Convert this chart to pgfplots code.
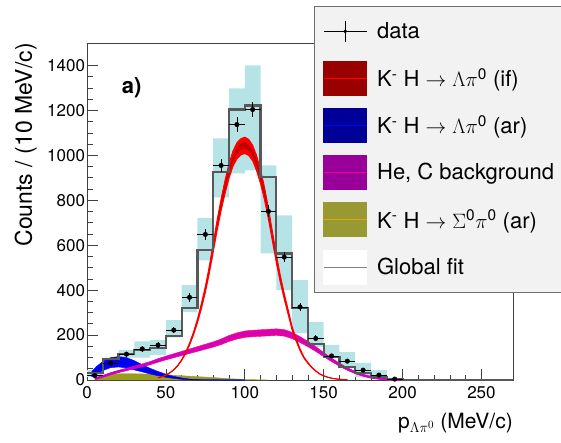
\documentclass[border=0pt]{standalone}
\usepackage{fontspec}
\setmainfont{TeX Gyre Heros}
\usepackage{pgfplots}
\pgfplotsset{compat=1.18}
\usepackage{pgfplotstable}
\usepgfplotslibrary{fillbetween}
\tikzset{fill between/on layer=main}

\definecolor{cyanbox}{RGB}{182,228,230}
\definecolor{histgray}{RGB}{88,88,88}
\definecolor{legfill}{RGB}{242,242,242}
\definecolor{legdraw}{RGB}{110,110,110}
\definecolor{reddark}{RGB}{195,0,0}
\definecolor{legred}{RGB}{153,0,0}
\definecolor{legblue}{RGB}{0,0,153}
\definecolor{legmag}{RGB}{153,0,153}
\definecolor{legolive}{RGB}{153,153,51}
\definecolor{oliveline}{RGB}{220,170,0}
\definecolor{magdark}{RGB}{205,0,205}
\definecolor{olivefill}{RGB}{155,155,30}

\pgfplotstableread{
x c lo hi ilo ihi
45 9.6 9.4 9.8 9.6 9.6
47.5 14.6 14.3 14.9 14.6 14.6
50 21.8 21.3 22.3 21.8 21.8
52.5 31.8 31.1 32.5 31.8 31.8
55 45.7 44.7 46.7 45.7 45.7
57.5 64.3 62.8 65.8 64.3 64.3
60 88.7 86.7 90.7 88.7 88.7
62.5 120 117 123 120 120
65 160 155 165 160 160
67.5 207 200 214 207 207
70 263 254 272 263 263
72.5 329 317 341 329 329
75 403 389 417 403 403
77.5 490 473 507 490 490
80 590 569 611 590 590
82.5 690 666 714 690 690
85 780 753 807 770 790
87.5 860 830 890 849 871
90 930 897 963 918 942
92.5 985 951 1019 972 998
95 1020 984 1056 1007 1033
97.5 1038 1002 1074 1025 1051
100 1045 1008 1081 1031 1059
102.5 1035 999 1071 1022 1048
105 1010 975 1045 997 1023
107.5 965 931 999 952 978
110 905 873 937 893 917
112.5 830 801 859 819 841
115 740 714 766 730 750
117.5 640 618 662 640 640
120 540 521 559 540 540
122.5 451 435 467 451 451
125 373 360 386 373 373
127.5 302 291 313 302 302
130 230 222 238 230 230
132.5 180 174 186 180 180
135 135 130 140 135 135
137.5 100 97 103 100 100
140 76 74 78 76 76
142.5 56 54.6 57.4 56 56
145 40 39 41 40 40
147.5 27 26.3 27.7 27 27
150 18.6 18.1 19.1 18.6 18.6
152.5 12.4 12.1 12.7 12.4 12.4
155 8 7.8 8.2 8 8
157.5 5.1 5 5.2 5.1 5.1
160 3.2 3.1 3.3 3.2 3.2
165 1.2 1.15 1.25 1.2 1.2
}\redtab

\pgfplotstableread{
x c lo hi
3 26 14 38
6 42 25 60
10 62 42 82
15 78 55 100
20 81 58 104
25 77 54 100
30 66 45 86
35 52 36 68
40 40 27 52
45 28 19 38
50 19 12 26
55 11.5 7 16
60 6 3 9
65 2.5 1 4
70 0.9 0.3 1.5
80 0.15 0 0.3
90 0.05 0 0.1
100 0 0 0
}\bluetab

\pgfplotstableread{
x c lo hi
5 6 0 11
10 11 0 19
15 15 0 25
20 17 0 28
30 17 0 28
40 16 0 26
50 14 0 23
60 12 0 19
70 9.5 0 15
80 7 0 11
90 3.8 0 6
100 1.3 0 2.5
110 0.3 0 0.7
115 0 0 0.1
}\olivetab

\pgfplotstableread{
x c lo hi
5 5 1.7 8.3
10 16 12.1 19.9
15 28 23.5 32.5
20 38 32.9 43.1
25 47 41.4 52.6
30 56 49.9 62.1
35 65 58.4 71.6
40 75 67.9 82.1
45 87 79.2 94.8
50 98 89.6 106.4
55 108 99.1 116.9
60 118 108.5 127.5
65 128 118 138
70 138 127.4 148.6
75 148 136.9 159.1
80 158 146.3 169.7
85 170 157.6 182.4
90 185 171.8 198.2
95 196 182.2 209.8
100 204 189.8 218.2
105 207 192.6 221.4
110 209 194.5 223.5
115 211 196.4 225.6
120 213 198.3 227.7
125 210 195.4 224.6
130 198 184.1 211.9
135 180 167.1 192.9
140 160 148.2 171.8
145 138 127.4 148.6
150 113 103.8 122.2
155 90 82 98
160 68 61.3 74.7
165 49 43.3 54.7
170 33 28.2 37.8
175 21 16.8 25.2
180 12 8.3 15.7
185 7 3.6 10.4
190 3.5 0.3 6.7
195 1 0 4
200 0 0 1
}\magtab

\pgfplotstableread{
x y e
5 20 4.5
15 75 8.7
25 115 10.7
35 138 11.7
45 155 12.4
55 222 14.9
65 368 19.2
75 648 25.5
85 955 30.9
95 1137 33.7
105 1204 34.7
115 751 27.4
125 547 23.4
135 325 18
145 185 13.6
155 107 10.3
165 84 9.2
175 44 6.6
185 22 4.7
195 4 2
}\datatab

\begin{document}
\begin{tikzpicture}
\begin{axis}[
  at={(87pt,62pt)}, anchor=south west,
  width=426pt, height=337pt, scale only axis,
  xmin=0, xmax=270, ymin=0, ymax=1500,
  xtick={0,50,100,150,200,250},
  minor x tick num=4,
  ytick={0,200,400,600,800,1000,1200,1400},
  minor y tick num=3,
  tick align=inside, tick pos=left,
  major tick length=11pt, minor tick length=5.5pt,
  axis line style={black!75, line width=0.7pt},
  tick style={black!75, line width=0.7pt},
  ticklabel style={font=\fontsize{17}{20}\selectfont},
  /pgf/number format/assume math mode=true,
  /pgf/number format/1000 sep={},
  xticklabel style={yshift=-3pt},
  yticklabel style={xshift=1.5pt},
  xlabel={p$_{\Lambda\pi^{0}}$ (MeV/c)},
  xlabel style={font=\fontsize{21}{24}\selectfont, at={(axis description cs:1,0)}, anchor=north east, inner sep=0pt, yshift=-33pt},
  ylabel={Counts / (10 MeV/c)},
  ylabel style={font=\fontsize{23}{26}\selectfont, at={(axis description cs:0,1)}, anchor=south east, inner sep=0pt, yshift=50pt},
  legend style={at={(axis description cs:0.533,1.11)}, anchor=north west,
    fill=legfill, draw=legdraw, line width=0.7pt,
    font=\fontsize{22}{26}\selectfont,
    inner xsep=9pt, inner ysep=8pt, row sep=12.5pt, column sep=10pt,
    nodes={inner sep=0pt}},
  legend cell align=left,
]
% systematic boxes
\addplot[fill=cyanbox, draw=none, unbounded coords=jump, forget plot] coordinates {
(0,13)(10,13)(10,44)(0,44)(nan,nan)
(10,58)(20,58)(20,100)(10,100)(nan,nan)
(20,100)(30,100)(30,133)(20,133)(nan,nan)
(30,100)(40,100)(40,172)(30,172)(nan,nan)
(40,111)(50,111)(50,178)(40,178)(nan,nan)
(50,190)(60,190)(60,267)(50,267)(nan,nan)
(60,302)(70,302)(70,422)(60,422)(nan,nan)
(70,533)(80,533)(80,720)(70,720)(nan,nan)
(80,813)(90,813)(90,1076)(80,1076)(nan,nan)
(90,920)(100,920)(100,1298)(90,1298)(nan,nan)
(100,933)(110,933)(110,1400)(100,1400)(nan,nan)
(110,564)(120,564)(120,955)(110,955)(nan,nan)
(120,400)(130,400)(130,733)(120,733)(nan,nan)
(130,209)(140,209)(140,444)(130,444)(nan,nan)
(140,147)(150,147)(150,258)(140,258)(nan,nan)
(150,98)(160,98)(160,156)(150,156)(nan,nan)
(160,53)(170,53)(170,124)(160,124)(nan,nan)
(170,13)(180,13)(180,76)(170,76)(nan,nan)
(180,9)(190,9)(190,44)(180,44)(nan,nan)
(190,0)(200,0)(200,10)(190,10)
};
% olive
\addplot[draw=olivefill, line width=0.4pt, name path=ohi, forget plot] table[x=x,y=hi]{\olivetab};
\addplot[draw=none, name path=olo, forget plot] table[x=x,y=lo]{\olivetab};
\addplot[olivefill, forget plot] fill between[of=ohi and olo];
% blue
\addplot[draw=blue, line width=0.4pt, name path=bhi, forget plot] table[x=x,y=hi]{\bluetab};
\addplot[draw=blue, line width=0.4pt, name path=blo, forget plot] table[x=x,y=lo]{\bluetab};
\addplot[blue, forget plot] fill between[of=bhi and blo];
\addplot[legblue, line width=0.6pt, forget plot] table[x=x,y=c]{\bluetab};
% magenta
\addplot[draw=magenta, line width=0.4pt, name path=mhi, forget plot] table[x=x,y=hi]{\magtab};
\addplot[draw=magenta, line width=0.4pt, name path=mlo, forget plot] table[x=x,y=lo]{\magtab};
\addplot[magenta, forget plot] fill between[of=mhi and mlo];
\addplot[magdark, line width=2.2pt, forget plot] table[x=x,y=c]{\magtab};
% red
\addplot[draw=red, line width=0.9pt, name path=rhi, forget plot] table[x=x,y=hi]{\redtab};
\addplot[draw=red, line width=0.9pt, name path=rlo, forget plot] table[x=x,y=lo]{\redtab};
\addplot[red, forget plot] fill between[of=rhi and rlo];
\addplot[red, line width=0.6pt, forget plot] table[x=x,y=c]{\redtab};
\addplot[draw=none, name path=rihi, forget plot] table[x=x,y=ihi]{\redtab};
\addplot[draw=none, name path=rilo, forget plot] table[x=x,y=ilo]{\redtab};
\addplot[reddark, forget plot] fill between[of=rihi and rilo];
% histogram (global fit)
\addplot[const plot, histgray, line width=2.2pt, forget plot] coordinates {
(0,30)(10,92)(20,115)(30,133)(40,142)(50,197)(60,319)(70,578)(80,925)(90,1204)
(100,1222)(110,902)(120,563)(130,321)(140,162)(150,102)(160,58)(170,30)(180,13)
(190,4)(200,0)(270,0)};
% data
\addplot[only marks, mark=*, mark size=2.3pt, black, forget plot,
  error bars/.cd, x dir=both, x fixed=5, y dir=both, y explicit,
  error mark=none, error bar style={black, line width=0.6pt}]
  table[x=x, y=y, y error=e]{\datatab};

\node[anchor=base west, font=\fontsize{22}{26}\selectfont\bfseries, inner sep=0pt] at (axis cs:22,1275) {a)};

% legend
\addlegendimage{legend image code/.code={
  \draw[black, line width=0.6pt] (0pt,0pt) -- (43pt,0pt);
  \draw[black, line width=0.6pt] (21.5pt,-10.5pt) -- (21.5pt,10.5pt);
  \fill[black] (21.5pt,0pt) circle (1.5pt);
  \path[draw=none, fill=none] (0pt,-17pt) rectangle (43pt,17pt);}}
\addlegendentry{data}
\addlegendimage{legend image code/.code={
  \fill[legred] (0pt,-17pt) rectangle (43pt,17pt);
  \draw[red, line width=0.5pt] (0pt,0pt) -- (43pt,0pt);}}
\addlegendentry{K\textsuperscript{-} H $\rightarrow$ $\Lambda\pi$\textsuperscript{0} (if)}
\addlegendimage{legend image code/.code={
  \fill[legblue] (0pt,-17pt) rectangle (43pt,17pt);
  \draw[blue, line width=0.5pt] (0pt,0pt) -- (43pt,0pt);}}
\addlegendentry{K\textsuperscript{-} H $\rightarrow$ $\Lambda\pi$\textsuperscript{0} (ar)}
\addlegendimage{legend image code/.code={
  \fill[legmag] (0pt,-17pt) rectangle (43pt,17pt);
  \draw[magenta, line width=0.5pt] (0pt,0pt) -- (43pt,0pt);}}
\addlegendentry{He, C background}
\addlegendimage{legend image code/.code={
  \fill[legolive] (0pt,-17pt) rectangle (43pt,17pt);
  \draw[oliveline, line width=0.5pt] (0pt,0pt) -- (43pt,0pt);}}
\addlegendentry{K\textsuperscript{-} H $\rightarrow$ $\Sigma$\textsuperscript{0}$\pi$\textsuperscript{0} (ar)}
\addlegendimage{legend image code/.code={
  \fill[white] (0pt,-17pt) rectangle (43pt,17pt);
  \draw[gray, line width=0.5pt] (0pt,0pt) -- (43pt,0pt);}}
\addlegendentry{Global fit}
\end{axis}
\pgfresetboundingbox
\useasboundingbox (0,0) rectangle (561pt,442pt);
\end{tikzpicture}
\end{document}
